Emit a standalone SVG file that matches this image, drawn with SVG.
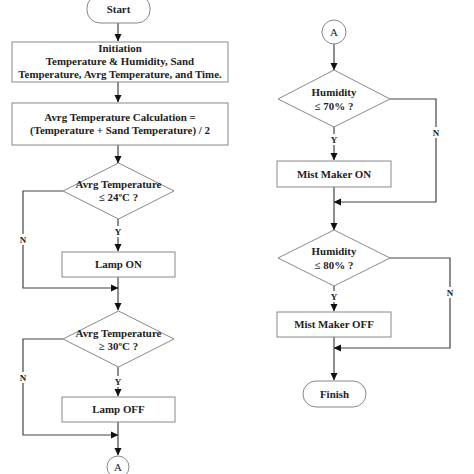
<svg xmlns="http://www.w3.org/2000/svg" width="474" height="474" viewBox="0 0 474 474">
<style>
.box{fill:#fff;stroke:#888;stroke-width:1}
.ln{fill:none;stroke:#444;stroke-width:1.2}
text{font-family:"Liberation Serif","Times New Roman",serif;font-weight:bold;font-size:10.9px;fill:#222;text-anchor:middle}
.lbl{font-size:9px}
</style>
<defs>
<marker id="ah" markerWidth="8" markerHeight="8" refX="7" refY="4" orient="auto" markerUnits="userSpaceOnUse">
<path d="M0,0.5 L7.5,4 L0,7.5 Z" fill="#111"/>
</marker>
</defs>
<rect width="474" height="474" fill="#fff"/>
<g id="connectors">
<line class="ln" x1="118" y1="23" x2="118" y2="41" marker-end="url(#ah)"/>
<line class="ln" x1="118" y1="82" x2="118" y2="102" marker-end="url(#ah)"/>
<line class="ln" x1="118" y1="145" x2="118" y2="163" marker-end="url(#ah)"/>
<line class="ln" x1="118" y1="219" x2="118" y2="251" marker-end="url(#ah)"/>
<polyline class="ln" points="63,191 23,191 23,288 118,288" marker-end="url(#ah)"/>
<line class="ln" x1="118" y1="277" x2="118" y2="310" marker-end="url(#ah)"/>
<line class="ln" x1="118" y1="367" x2="118" y2="396" marker-end="url(#ah)"/>
<polyline class="ln" points="63,339 23,339 23,435 118,435" marker-end="url(#ah)"/>
<line class="ln" x1="118" y1="422" x2="118" y2="455" marker-end="url(#ah)"/>
<line class="ln" x1="334" y1="44" x2="334" y2="70" marker-end="url(#ah)"/>
<line class="ln" x1="334" y1="127" x2="334" y2="160" marker-end="url(#ah)"/>
<polyline class="ln" points="390,99 436,99 436,202 334,202" marker-end="url(#ah)"/>
<line class="ln" x1="334" y1="187" x2="334" y2="230" marker-end="url(#ah)"/>
<line class="ln" x1="334" y1="286" x2="334" y2="311" marker-end="url(#ah)"/>
<polyline class="ln" points="390,258 450,258 450,348 334,348" marker-end="url(#ah)"/>
<line class="ln" x1="334" y1="337" x2="334" y2="380" marker-end="url(#ah)"/>
<rect x="19" y="234" width="8" height="11" fill="#fff"/>
<text class="lbl" x="23" y="243">N</text>
<rect x="19" y="372" width="8" height="11" fill="#fff"/>
<text class="lbl" x="23" y="381">N</text>
<rect x="432" y="127" width="8" height="11" fill="#fff"/>
<text class="lbl" x="436" y="136">N</text>
<rect x="446" y="287" width="8" height="11" fill="#fff"/>
<text class="lbl" x="450" y="296">N</text>
<rect x="114" y="226" width="8" height="11" fill="#fff"/>
<text class="lbl" x="118" y="235">Y</text>
<rect x="114" y="376" width="8" height="11" fill="#fff"/>
<text class="lbl" x="118" y="385">Y</text>
<rect x="330" y="134" width="8" height="11" fill="#fff"/>
<text class="lbl" x="334" y="143">Y</text>
<rect x="330" y="291" width="8" height="11" fill="#fff"/>
<text class="lbl" x="334" y="300">Y</text>
</g>
<g id="start">
<rect class="box" x="87" y="-5" width="63" height="28" rx="13"/>
<text x="118.5" y="13">Start</text>
</g>
<g id="init">
<rect class="box" x="12" y="42" width="216" height="40"/>
<text x="120" y="52">Initiation</text>
<text x="120" y="65">Temperature &amp; Humidity, Sand</text>
<text x="120" y="78">Temperature, Avrg Temperature, and Time.</text>
</g>
<g id="calc">
<rect class="box" x="12" y="103" width="216" height="42"/>
<text x="120" y="121">Avrg Temperature Calculation =</text>
<text x="120" y="134">(Temperature + Sand Temperature) / 2</text>
</g>
<g id="dec1">
<polygon class="box" points="118.5,163 174,191 118.5,219 63,191"/>
<text x="118.5" y="188">Avrg Temperature</text>
<text x="118.5" y="201">≤ 24ºC ?</text>
</g>
<g id="lampon">
<rect class="box" x="62" y="252" width="113" height="25"/>
<text x="118.5" y="268">Lamp ON</text>
</g>
<g id="dec2">
<polygon class="box" points="118.5,311 174,339 118.5,367 63,339"/>
<text x="118.5" y="337">Avrg Temperature</text>
<text x="118.5" y="350">≥ 30ºC ?</text>
</g>
<g id="lampoff">
<rect class="box" x="62" y="397" width="113" height="25"/>
<text x="118.5" y="413">Lamp OFF</text>
</g>
<g id="connA1">
<circle class="box" cx="118" cy="467" r="11"/>
<text x="118" y="471" style="font-weight:normal">A</text>
</g>
<g id="connA2">
<circle class="box" cx="334" cy="32" r="12"/>
<text x="334" y="36" style="font-weight:normal">A</text>
</g>
<g id="hum1">
<polygon class="box" points="334,70 390,99 334,127 278,99"/>
<text x="334" y="96">Humidity</text>
<text x="334" y="110">≤ 70% ?</text>
</g>
<g id="mistOn">
<rect class="box" x="277" y="161" width="114" height="26"/>
<text x="334" y="178">Mist Maker ON</text>
</g>
<g id="hum2">
<polygon class="box" points="334,230 390,258 334,286 278,258"/>
<text x="334" y="255">Humidity</text>
<text x="334" y="269">≤ 80% ?</text>
</g>
<g id="mistOff">
<rect class="box" x="277" y="312" width="114" height="25"/>
<text x="334" y="328">Mist Maker OFF</text>
</g>
<g id="finish">
<rect class="box" x="303" y="381" width="63" height="26" rx="13"/>
<text x="334.5" y="398">Finish</text>
</g>
</svg>
